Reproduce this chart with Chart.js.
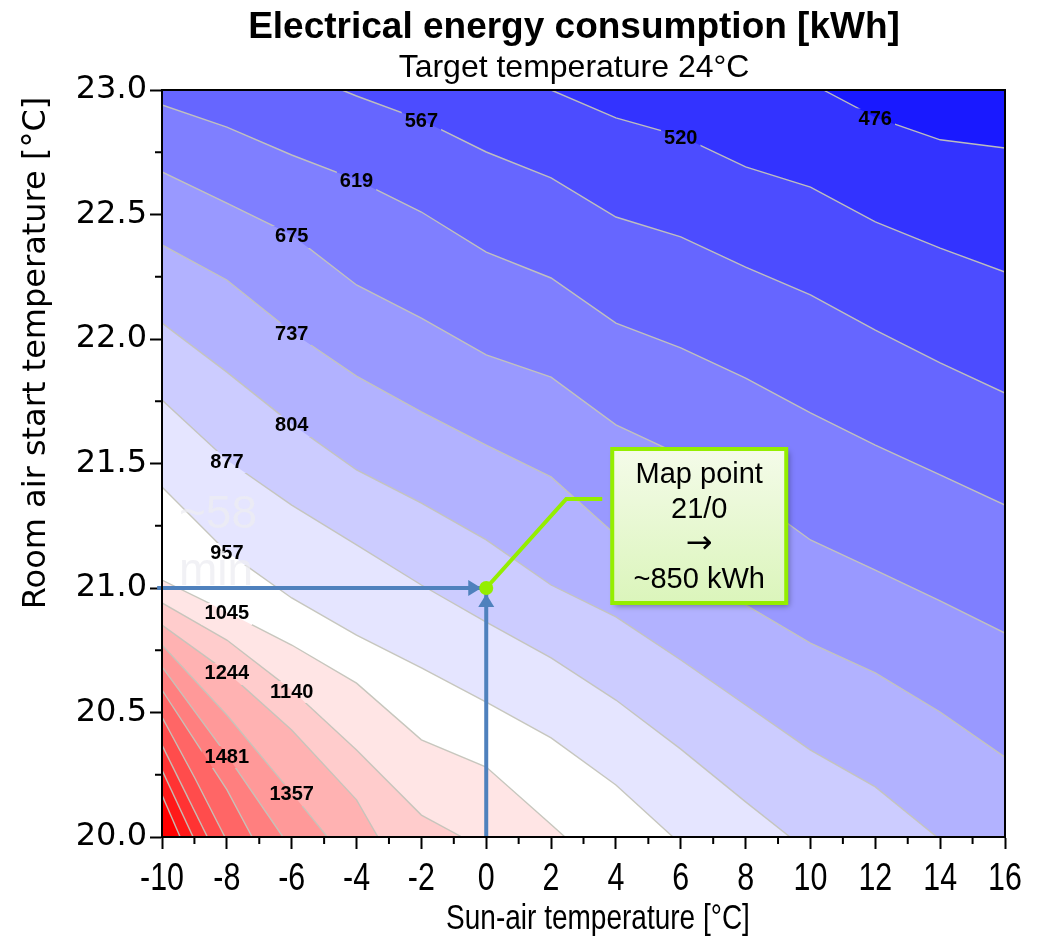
<!DOCTYPE html>
<html><head><meta charset="utf-8">
<script src="https://cdn.jsdelivr.net/npm/chart.js@4.4.1/dist/chart.umd.min.js"></script>
<style>html,body{margin:0;padding:0;background:#fff;overflow:hidden}</style>
</head><body>
<canvas id="c" width="1053" height="940"></canvas>
<script>
// ---- data ----
const xRange = [-10, 16];
const yRange = [20, 23];
const xTickValues = [-10,-8,-6,-4,-2,0,2,4,6,8,10,12,14,16];
const xMinorTicks = [-9,-7,-5,-3,-1,1,3,5,7,9,11,13,15];
const yTickValues = [20.0,20.5,21.0,21.5,22.0,22.5,23.0];
const yMinorTicks = [20.25,20.75,21.25,21.75,22.25,22.75];

const levels = [476,520,567,619,675,737,804,877,957,1045,1140,1244,1357,1481,1617,1765,1926,2102,2294];

const c476  = [[10.4,23.0],[12,22.89],[14,22.80],[16,22.767]];
const c520  = [[2.0,23.0],[4,22.888],[6,22.815],[8,22.691],[10,22.61],[12,22.47],[14,22.365],[16,22.269]];
const c567  = [[-4.45,23.0],[-4,22.976],[-2,22.88],[0,22.751],[2,22.647],[4,22.49],[6,22.41],[8,22.289],[10,22.177],[12,22.036],[14,21.904],[16,21.783]];
const c619  = [[-10,22.94],[-8,22.851],[-6,22.739],[-4,22.639],[-2,22.51],[0,22.349],[2,22.245],[4,22.064],[6,21.964],[8,21.843],[10,21.703],[12,21.574],[14,21.454],[16,21.333]];
const c675  = [[-10,22.671],[-8,22.546],[-6,22.418],[-4,22.217],[-2,22.084],[0,21.936],[2,21.847],[4,21.655],[6,21.534],[8,21.382],[10,21.193],[12,21.072],[14,20.948],[16,20.819]];
const c737  = [[-10,22.378],[-8,22.237],[-6,22.028],[-4,21.851],[-2,21.707],[0,21.574],[2,21.446],[4,21.213],[6,21.072],[8,20.932],[10,20.779],[12,20.659],[14,20.502],[16,20.321]];
const c804  = [[-10,22.064],[-8,21.867],[-6,21.659],[-4,21.474],[-2,21.341],[0,21.193],[2,21.012],[4,20.884],[6,20.711],[8,20.53],[10,20.349],[12,20.201],[13.9,20.0]];
const c877  = [[-10,21.755],[-8,21.514],[-6,21.333],[-4,21.173],[-2,21.012],[0,20.863],[2,20.719],[4,20.55],[6,20.353],[8,20.141],[9.37,20.0]];
const c957  = [[-10,21.406],[-8,21.145],[-6,20.96],[-4,20.811],[-2,20.679],[0,20.542],[2,20.398],[4,20.209],[5.76,20.0]];
const c1045 = [[-10,21.032],[-8,20.904],[-6,20.771],[-4,20.618],[-2,20.39],[0,20.281],[2,20.05],[2.43,20.0]];
const c1140 = [[-10,20.94],[-8,20.791],[-6,20.59],[-4,20.349],[-2,20.088],[-0.75,20.0]];
const c1244 = [[-10,20.851],[-8,20.663],[-6,20.43],[-4,20.149],[-3.34,20.0]];
const c1357 = [[-10,20.771],[-8,20.49],[-6,20.177],[-4.9,20.0]];
const c1481 = [[-10,20.683],[-8,20.329],[-6.27,20.0]];
const c1617 = [[-10,20.59],[-8,20.19],[-7.22,20.0]];
const c1765 = [[-10,20.482],[-9,20.24],[-8.06,20.0]];
const c1926 = [[-10,20.369],[-8.6,20.0]];
const c2102 = [[-10,20.269],[-9.04,20.0]];
const c2294 = [[-10,20.169],[-9.44,20.0]];
const contours = [c476,c520,c567,c619,c675,c737,c804,c877,c957,c1045,c1140,c1244,c1357,c1481,c1617,c1765,c1926,c2102,c2294];

// contour labels: [level, x where the label sits on its line]
const contourLabels = [[476,12],[520,6],[567,-2],[619,-4],[675,-6],[737,-6],[804,-6],[877,-8],[957,-8],[1045,-8],[1140,-6],[1244,-8],[1357,-6],[1481,-8]];

const mapPoint = [0, 21];
const calloutLines = ['Map point', '21/0', '\u2192', '~850 kWh'];

// ---- styles ----
const bandColors = ['#1919ff','#3333ff','#4c4cff','#6666ff','#7f7fff','#9999ff','#b2b2ff','#ccccff','#e5e5ff','#ffffff','#ffe5e5','#ffcccc','#ffb2b2','#ff9999','#ff7f7f','#ff6666','#ff4c4c','#ff3333','#ff1919'];
const topBandColor = '#ff0000';
const lineColor = 'rgba(196,196,186,0.95)';
const arrowColor = '#4f81bd';
const lime = '#94ee00';
const SANS = '"Liberation Sans", Arial, sans-serif';
const WIDE = '"DejaVu Sans", sans-serif';
const LABEL_FONT = 'bold 20px ' + SANS;

const toXY = pts => pts.map(([x, y]) => ({x, y}));

const datasets = [];
contours.forEach((pts, i) => {
  const d = toXY(pts);
  const last = pts[pts.length - 1];
  if (last[1] === yRange[0] && last[0] < xRange[1]) d.push({x: xRange[1], y: yRange[0]});
  datasets.push({label: 'band' + levels[i], data: d, showLine: true, fill: 'end',
    backgroundColor: bandColors[i], borderColor: 'rgba(0,0,0,0)', borderWidth: 0,
    pointRadius: 0, tension: 0, order: 100 + i});
});
contours.forEach((pts, i) => {
  datasets.push({label: 'line' + levels[i], data: toXY(pts), showLine: true, fill: false,
    borderColor: lineColor, borderWidth: 1.4, pointRadius: 0, tension: 0, order: 50});
});
datasets.push({label: 'hArrow', data: [{x: xRange[0] - 0.15, y: mapPoint[1]}, {x: mapPoint[0], y: mapPoint[1]}],
  showLine: true, borderColor: arrowColor, borderWidth: 4, pointRadius: 0, fill: false, clip: false, order: 10});
datasets.push({label: 'vArrow', data: [{x: mapPoint[0], y: yRange[0]}, {x: mapPoint[0], y: mapPoint[1]}],
  showLine: true, borderColor: arrowColor, borderWidth: 4, pointRadius: 0, fill: false, clip: false, order: 10});
datasets.push({label: 'leader', data: [], order: 5});
datasets.push({label: 'mapPoint', data: [{x: mapPoint[0], y: mapPoint[1]}], showLine: false,
  pointRadius: 7, backgroundColor: lime, borderColor: lime, borderWidth: 0, order: 0, clip: false});

function interpY(pts, x) {
  for (let i = 0; i < pts.length - 1; i++) {
    const [x0, y0] = pts[i], [x1, y1] = pts[i + 1];
    if (x >= x0 && x <= x1) return y0 + (y1 - y0) * (x - x0) / (x1 - x0);
  }
  return pts[pts.length - 1][1];
}

function labelBoxes(chart) {
  const {ctx} = chart;
  const xs = chart.scales.x, ys = chart.scales.y;
  ctx.save(); ctx.font = LABEL_FONT;
  const out = contourLabels.map(([lev, x]) => {
    const y = interpY(contours[levels.indexOf(lev)], x);
    const px = xs.getPixelForValue(x), py = ys.getPixelForValue(y) + 2;
    const w = ctx.measureText(String(lev)).width;
    return {lev, px, py, w};
  });
  ctx.restore();
  return out;
}

function condensedText(ctx, text, x, y, sx) {
  ctx.save(); ctx.translate(x, y); ctx.scale(sx, 1); ctx.fillText(text, 0, 0); ctx.restore();
}

const decor = {
  id: 'decor',
  beforeDatasetsDraw(chart) {
    const {ctx, chartArea: a} = chart;
    ctx.save();
    ctx.fillStyle = topBandColor;
    ctx.fillRect(a.left, a.top, a.right - a.left, a.bottom - a.top);
    ctx.restore();
  },
  beforeDatasetDraw(chart, args) {
    const lbl = args.meta._dataset.label;
    if (!lbl.startsWith('line')) return;
    const {ctx} = chart;
    ctx.save();
    ctx.beginPath();
    ctx.rect(0, 0, chart.width, chart.height);
    labelBoxes(chart).forEach(b => { ctx.rect(b.px - b.w / 2 - 3, b.py - 11, b.w + 6, 22); });
    ctx.clip('evenodd');
  },
  afterDatasetDraw(chart, args) {
    const {ctx} = chart;
    const xs = chart.scales.x, ys = chart.scales.y;
    const mx = xs.getPixelForValue(mapPoint[0]), my = ys.getPixelForValue(mapPoint[1]);
    const lbl = args.meta._dataset.label;
    if (lbl.startsWith('line')) { ctx.restore(); return; }
    if (lbl === 'hArrow') {
      ctx.save(); ctx.fillStyle = arrowColor; ctx.beginPath();
      const tip = mx - 5;
      ctx.moveTo(tip, my); ctx.lineTo(tip - 13, my - 8); ctx.lineTo(tip - 13, my + 8); ctx.closePath(); ctx.fill();
      ctx.restore();
    }
    if (lbl === 'vArrow') {
      ctx.save(); ctx.fillStyle = arrowColor; ctx.beginPath();
      const tip = my + 6;
      ctx.moveTo(mx, tip); ctx.lineTo(mx - 8, tip + 13); ctx.lineTo(mx + 8, tip + 13); ctx.closePath(); ctx.fill();
      ctx.restore();
    }
    if (lbl === 'leader') {
      ctx.save();
      ctx.strokeStyle = lime; ctx.lineWidth = 4; ctx.lineJoin = 'miter';
      ctx.beginPath(); ctx.moveTo(mx, my); ctx.lineTo(mx + 80, my - 89); ctx.lineTo(mx + 116, my - 89); ctx.stroke();
      const bx = mx + 126, by = my - 139, bw = 174, bh = 154;
      ctx.save();
      ctx.shadowColor = 'rgba(0,0,0,0.35)'; ctx.shadowBlur = 6; ctx.shadowOffsetX = 3; ctx.shadowOffsetY = 3;
      const g = ctx.createLinearGradient(0, by, 0, by + bh);
      g.addColorStop(0, '#f4fbe9'); g.addColorStop(1, '#dbf5bb');
      ctx.fillStyle = g; ctx.fillRect(bx, by, bw, bh);
      ctx.restore();
      ctx.strokeStyle = lime; ctx.lineWidth = 4; ctx.strokeRect(bx, by, bw, bh);
      ctx.fillStyle = '#000'; ctx.textAlign = 'center'; ctx.textBaseline = 'middle';
      calloutLines.forEach((t, i) => {
        ctx.font = (t === '\u2192') ? '32px "DejaVu Sans", sans-serif' : '29px ' + SANS;
        ctx.fillText(t, bx + bw / 2, by + 26 + i * 35);
      });
      ctx.restore();
    }
  },
  afterDatasetsDraw(chart) {
    const {ctx, chartArea: a} = chart;
    const xs = chart.scales.x, ys = chart.scales.y;
    ctx.save();
    // contour labels
    ctx.font = LABEL_FONT; ctx.fillStyle = '#000'; ctx.textAlign = 'center'; ctx.textBaseline = 'middle';
    labelBoxes(chart).forEach(b => ctx.fillText(String(b.lev), b.px, b.py));
    // faint overlay text
    ctx.fillStyle = 'rgba(236,236,242,0.75)'; ctx.textAlign = 'left'; ctx.textBaseline = 'alphabetic';
    ctx.font = '46px ' + SANS;
    ctx.fillText('~58', a.left + 17, 528);
    ctx.fillText('min', a.left + 17, 585);
    // frame
    ctx.strokeStyle = '#000'; ctx.lineWidth = 2;
    ctx.strokeRect(a.left, a.top, a.right - a.left, a.bottom - a.top);
    // minor ticks
    ctx.beginPath();
    xMinorTicks.forEach(v => { const p = xs.getPixelForValue(v); ctx.moveTo(p, a.bottom); ctx.lineTo(p, a.bottom + 7); });
    yMinorTicks.forEach(v => { const p = ys.getPixelForValue(v); ctx.moveTo(a.left, p); ctx.lineTo(a.left - 7, p); });
    ctx.stroke();
    ctx.restore();
  },
  afterDraw(chart) {
    const {ctx} = chart;
    const xs = chart.scales.x;
    ctx.save();
    ctx.fillStyle = '#000'; ctx.textAlign = 'center'; ctx.textBaseline = 'alphabetic';
    ctx.font = 'bold 37px ' + SANS;
    ctx.fillText('Electrical energy consumption [kWh]', 574, 38);
    ctx.font = '32px ' + SANS;
    ctx.fillText('Target temperature 24\u00B0C', 574, 77);
    ctx.font = '38px ' + SANS; ctx.textBaseline = 'middle';
    xTickValues.forEach(v => condensedText(ctx, String(v), xs.getPixelForValue(v), 880, 0.8));
    ctx.textBaseline = 'alphabetic';
    ctx.font = '35px ' + SANS;
    condensedText(ctx, 'Sun-air temperature [\u00B0C]', 598, 929, 0.8);
    ctx.translate(37, 353); ctx.rotate(-Math.PI / 2);
    ctx.font = '32px ' + WIDE; ctx.textBaseline = 'middle';
    ctx.fillText('Room air start temperature [\u00B0C]', 0, 0);
    ctx.restore();
  }
};

new Chart(document.getElementById('c'), {
  type: 'scatter',
  data: {datasets},
  plugins: [decor],
  options: {
    responsive: false, animation: false, devicePixelRatio: 1,
    layout: {padding: {left: 0, right: 48, top: 90, bottom: 0}},
    plugins: {legend: {display: false}, tooltip: {enabled: false}, filler: {propagate: false}},
    scales: {
      x: {type: 'linear', min: xRange[0], max: xRange[1],
        afterBuildTicks: s => { s.ticks = xTickValues.map(v => ({value: v})); },
        afterFit: s => { s.height = 103; },
        ticks: {autoSkip: false, maxRotation: 0, color: 'rgba(0,0,0,0)', padding: 6,
          font: {family: SANS, size: 30}, callback: v => String(v)},
        grid: {drawOnChartArea: false, drawTicks: true, tickLength: 12, tickWidth: 2, tickColor: '#000'},
        border: {display: true, color: '#000', width: 2}},
      y: {type: 'linear', min: yRange[0], max: yRange[1],
        afterBuildTicks: s => { s.ticks = yTickValues.map(v => ({value: v})); },
        afterFit: s => { s.width = 162; },
        ticks: {autoSkip: false, color: '#000', padding: 3,
          font: {family: WIDE, size: 32}, callback: v => Number(v).toFixed(1)},
        grid: {drawOnChartArea: false, drawTicks: true, tickLength: 12, tickWidth: 2, tickColor: '#000'},
        border: {display: true, color: '#000', width: 2}}
    }
  }
});
</script>
</body></html>
